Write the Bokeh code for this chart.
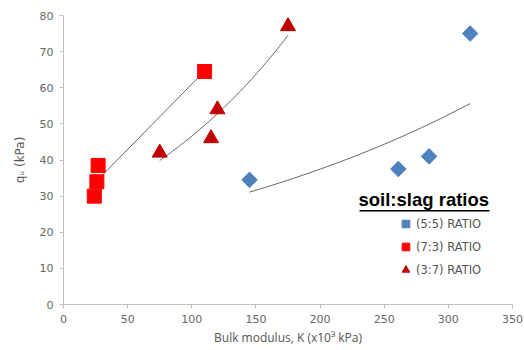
import numpy as np
from bokeh.plotting import figure
from bokeh.models import Range1d, Legend, LegendItem, Label, BoxAnnotation, FixedTicker
from bokeh.embed import file_html
from bokeh.resources import INLINE

# (5:5) ratio
k_55 = [145, 261, 285, 317]
q_55 = [34.5, 37.5, 41.0, 75.0]
# (7:3) ratio
k_73 = [24, 26, 27, 110]
q_73 = [30.0, 34.0, 38.5, 64.5]
# (3:7) ratio
k_37 = [75, 115, 120, 175]
q_37 = [42.0, 46.0, 54.0, 77.0]

x_ticks = [0, 50, 100, 150, 200, 250, 300, 350]
y_ticks = [0, 10, 20, 30, 40, 50, 60, 70, 80]

p = figure(width=524, height=350, output_backend="svg", toolbar_location=None,
           x_range=Range1d(0, 350), y_range=Range1d(0, 80),
           min_border_left=63, min_border_right=12, min_border_top=15, min_border_bottom=46)
p.outline_line_color = None
p.xgrid.visible = False
p.ygrid.visible = False
p.background_fill_color = "white"
p.border_fill_color = "white"

for ax in (p.xaxis[0], p.yaxis[0]):
    ax.axis_line_color = "#BFBFBF"
    ax.major_tick_line_color = "#BFBFBF"
    ax.minor_tick_line_color = None
    ax.major_tick_out = 4
    ax.major_tick_in = 0
    ax.major_label_text_color = "#666666"
    ax.major_label_text_font = "DejaVu Sans"
    ax.major_label_text_font_size = "11px"
    ax.axis_label_text_color = "#555555"
    ax.axis_label_text_font_style = "normal"

p.xaxis.ticker = FixedTicker(ticks=x_ticks)
p.yaxis.ticker = FixedTicker(ticks=y_ticks)
p.xaxis.axis_label = "Bulk modulus, K (x10\u00b3 kPa)"
p.xaxis.axis_label_text_font = "Open Sans"
p.xaxis.axis_label_text_font_size = "12px"
p.xaxis.axis_label_standoff = 3
p.yaxis.axis_label = "q\u1d64 (kPa)"
p.yaxis.axis_label_text_font = "DejaVu Sans"
p.yaxis.axis_label_text_font_size = "12px"
p.yaxis.axis_label_standoff = 10
p.yaxis.major_label_standoff = 6
p.xaxis.major_label_standoff = 6

# trend lines (fits of the data)
def exp_fit(x, y):
    x = np.array(x, float); y = np.array(y, float)
    b, a = np.polyfit(x, np.log(y), 1)
    xs = np.linspace(x.min(), x.max(), 60)
    return xs, np.exp(a + b * xs)

def lin_fit(x, y):
    x = np.array(x, float); y = np.array(y, float)
    b, a = np.polyfit(x, y, 1)
    xs = np.array([x.min(), x.max()])
    return xs, a + b * xs

for fx, fy in (exp_fit(k_55, q_55), lin_fit(k_73, q_73), exp_fit(k_37, q_37)):
    p.line(fx, fy, line_color="#404040", line_width=1, line_alpha=0.8)

r1 = p.scatter(k_55, q_55, marker="square", angle=np.pi / 4, size=11,
               fill_color="#4F81BD", line_color="#4F81BD")
r2 = p.scatter(k_73, q_73, marker="square", size=14, fill_color="#FF0000", line_color="#FF0000")
r3 = p.scatter(k_37, q_37, marker="triangle", size=15, fill_color="#C00000", line_color="#C00000")

legend = Legend(items=[LegendItem(label="(5:5) RATIO", renderers=[r1]),
                       LegendItem(label="(7:3) RATIO", renderers=[r2]),
                       LegendItem(label="(3:7) RATIO", renderers=[r3])],
                location=(333, 25), border_line_color=None, background_fill_alpha=0,
                label_text_font="DejaVu Sans", label_text_font_size="11.5px",
                label_text_color="#555555", glyph_width=19, glyph_height=19,
                spacing=4, padding=0, margin=0, label_standoff=1)
p.add_layout(legend)

title = Label(x=295, y=95, x_units="screen", y_units="screen", text="soil:slag ratios",
              text_font="Liberation Sans", text_font_style="bold", text_font_size="18.5px",
              text_color="black", text_baseline="bottom")
p.add_layout(title)
p.add_layout(BoxAnnotation(left=296, right=426, top=94.5, bottom=93,
                           left_units="screen", right_units="screen",
                           top_units="screen", bottom_units="screen",
                           fill_color="black", fill_alpha=1, line_color=None))

open("out.html", "w").write(file_html(p, INLINE))
